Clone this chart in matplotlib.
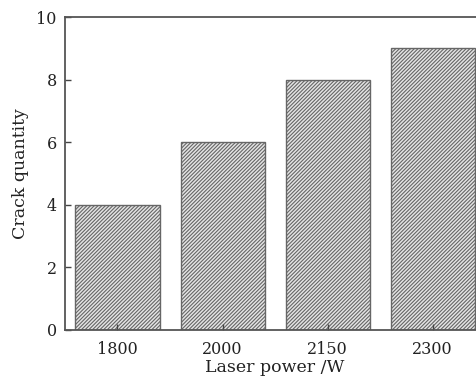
import matplotlib
matplotlib.use("Agg")
import matplotlib.pyplot as plt

powers = ["1800", "2000", "2150", "2300"]
cracks = [4, 6, 8, 9]

plt.rcParams['font.family'] = ['DejaVu Serif']
plt.rcParams['hatch.color'] = '#707070'
plt.rcParams['hatch.linewidth'] = 0.8

fig = plt.figure(figsize=(4.77, 3.83), dpi=100)
ax = fig.add_axes([65 / 477, 53 / 383, 420 / 477, 313 / 383])

x = list(range(len(powers)))
ax.bar(x, cracks, width=0.8, color='#e4e4e4', edgecolor='#666666',
       linewidth=1.0, hatch='/////////')

ax.set_xlim(-0.5, 3.5)
ax.set_ylim(0, 10)
ax.set_xticks(x)
ax.set_xticklabels(powers)
ax.set_yticks([0, 2, 4, 6, 8, 10])
ax.tick_params(direction='in', length=4, width=1, colors='#444444',
               labelsize=11.5, labelcolor='#222222')
ax.tick_params(axis='x', pad=8)
ax.tick_params(axis='y', pad=6)
for s in ax.spines.values():
    s.set_color('#555555')
    s.set_linewidth(1.3)

ax.set_xlabel('Laser power /W', fontsize=12.5, labelpad=1, color='#222222')
ax.set_ylabel('Crack quantity', fontsize=12.5, labelpad=5, color='#222222')

fig.savefig('out.png', dpi=100)
